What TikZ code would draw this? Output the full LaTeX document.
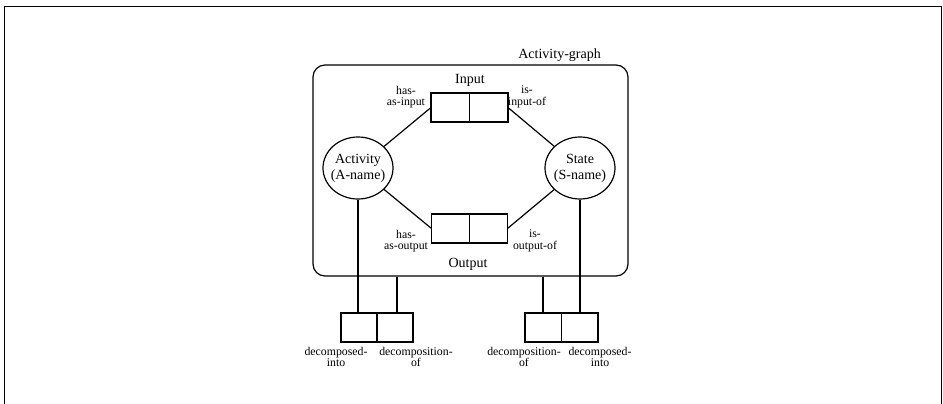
\documentclass[tikz,border=0pt]{standalone}
\usepackage{fontspec}
\setmainfont{Liberation Serif}
\usetikzlibrary{shapes.geometric}
\tikzset{
  ln/.style={line width=1.2pt},
  ell/.style={ellipse, draw, line width=1.2pt, minimum width=70pt, minimum height=62pt, inner xsep=-8pt, inner ysep=0pt, align=center, font=\fontsize{14}{16}\selectfont},
  pairbox/.style={rectangle, draw, line width=1.2pt, minimum height=29pt, inner sep=0pt, outer sep=0pt},
  lab/.style={align=center, inner sep=0pt, font=\fontsize{11.8}{11.5}\selectfont},
  big/.style={inner sep=0pt, font=\fontsize{14}{16}\selectfont}
}
\begin{document}
\begin{tikzpicture}[x=1pt,y=-1pt]
\useasboundingbox (0,0) rectangle (943,404);
% outer frame (open at bottom)
\draw[line width=0.8pt] (4,404) -- (4,6) -- (941,6) -- (941,404);
% activity graph container
\node[draw, line width=1.2pt, rounded corners=12pt, minimum width=315pt, minimum height=211pt, inner sep=0pt] (ag) at (470.5,170.5) {};
\node[big, anchor=east] (agl) at (601,55) {Activity-graph};
% circles
\node[ell] (act) at (358,168) {Activity\\(A-name)};
\node[ell] (st) at (580,168) {State\\(S-name)};
% input / output boxes
\node[pairbox, minimum width=77pt] (in) at (469.5,107.5) {};
\draw[ln] (in.north) -- (in.south);
\node[pairbox, minimum width=76pt] (out) at (469.5,228.5) {};
\draw[ln] (out.north) -- (out.south);
% bottom boxes
\node[pairbox, minimum width=72pt] (lb) at (377,327.5) {};
\draw[ln] (lb.north) -- (lb.south);
\node[pairbox, minimum width=73pt] (rb) at (561.5,327.5) {};
\draw[ln] (rb.north) -- (rb.south);
% connectors
\draw[ln] (act) -- (in.west);
\draw[ln] (in.east) -- (st);
\draw[ln] (act) -- (out.west);
\draw[ln] (out.east) -- (st);
% vertical links
\coordinate (d1) at (397,0);
\coordinate (d2) at (543,0);
\draw[ln] (act.south) -- (act.south |- lb.north);
\draw[ln] (ag.south -| d1) -- (lb.north -| d1);
\draw[ln] (ag.south -| d2) -- (rb.north -| d2);
\draw[ln] (st.south) -- (st.south |- rb.north);
% labels
\node[big] (inl) at (470,80) {Input};
\node[big] (outl) at (468,264) {Output};
\node[lab] (hai) at (406,97) {has-\\as-input};
\node[lab] (iio) at (527,97) {is-\\input-of};
\node[lab] (hao) at (406,241) {has-\\as-output};
\node[lab] (iop) at (535,241) {is-\\output-of};
\node[lab] (l1) at (336,357) {decomposed-\\into};
\node[lab] (l2) at (416,357) {decomposition-\\of};
\node[lab] (l3) at (524,357) {decomposition-\\of};
\node[lab] (l4) at (600,357) {decomposed-\\into};
\end{tikzpicture}
\end{document}
